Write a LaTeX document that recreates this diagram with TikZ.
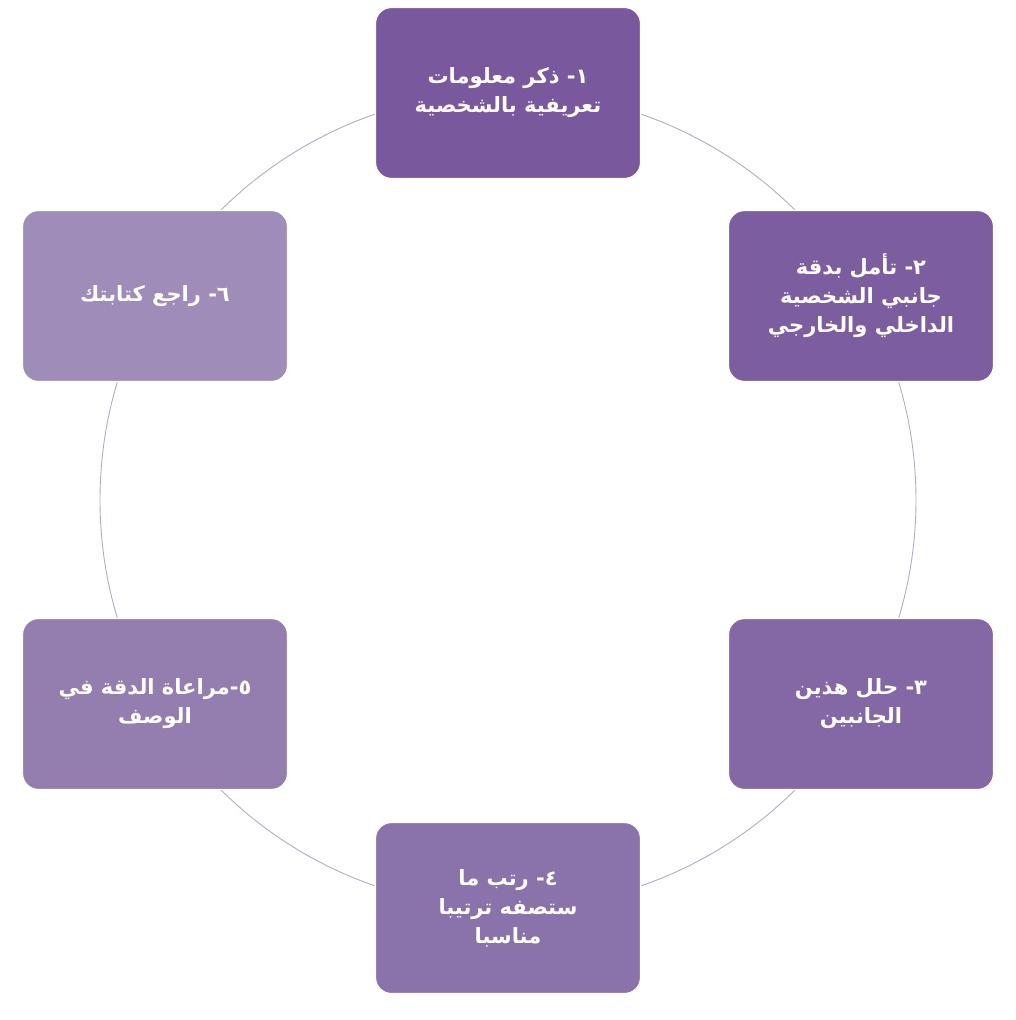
\documentclass[tikz,border=0pt]{standalone}
\usepackage{fontspec}
\TeXXeTstate=1
\newfontfamily\arabicfont[Script=Arabic]{DejaVu Sans}
\begin{document}
\begin{tikzpicture}[x=1pt,y=-1pt,
  stepbox/.style={draw=white,line width=1.2pt,rounded corners=16pt,minimum width=265pt,minimum height=171pt,text=white,align=center,font=\arabicfont\bfseries\fontsize{21}{29}\selectfont,inner sep=4pt},
  ring/.style={draw=black!25!violet!35!gray!70,line width=0.9pt}]
\useasboundingbox (0,0) rectangle (1016,1020);
\draw[ring,draw={rgb,255:red,180;green,170;blue,195}] (508,500) circle (408);
\node[stepbox,fill={rgb,255:red,122;green,88;blue,158}] (a) at (508,93) {\beginR ١- ذكر معلومات\endR\\\beginR تعريفية بالشخصية\endR};
\node[stepbox,fill={rgb,255:red,124;green,94;blue,160}] (b) at (861,296) {\beginR ٢- تأمل بدقة\endR\\\beginR جانبي الشخصية\endR\\\beginR الداخلي والخارجي\endR};
\node[stepbox,fill={rgb,255:red,131;green,104;blue,165}] (c) at (861,704) {\beginR ٣- حلل هذين\endR\\\beginR الجانبين\endR};
\node[stepbox,fill={rgb,255:red,138;green,114;blue,170}] (d) at (508,908) {\beginR ٤- رتب ما\endR\\\beginR ستصفه ترتيبا\endR\\\beginR مناسبا\endR};
\node[stepbox,fill={rgb,255:red,148;green,126;blue,176}] (e) at (155,704) {\beginR ٥-مراعاة الدقة في\endR\\\beginR الوصف\endR};
\node[stepbox,fill={rgb,255:red,160;green,140;blue,184}] (f) at (155,296) {\beginR ٦- راجع كتابتك\endR};
\end{tikzpicture}
\end{document}
